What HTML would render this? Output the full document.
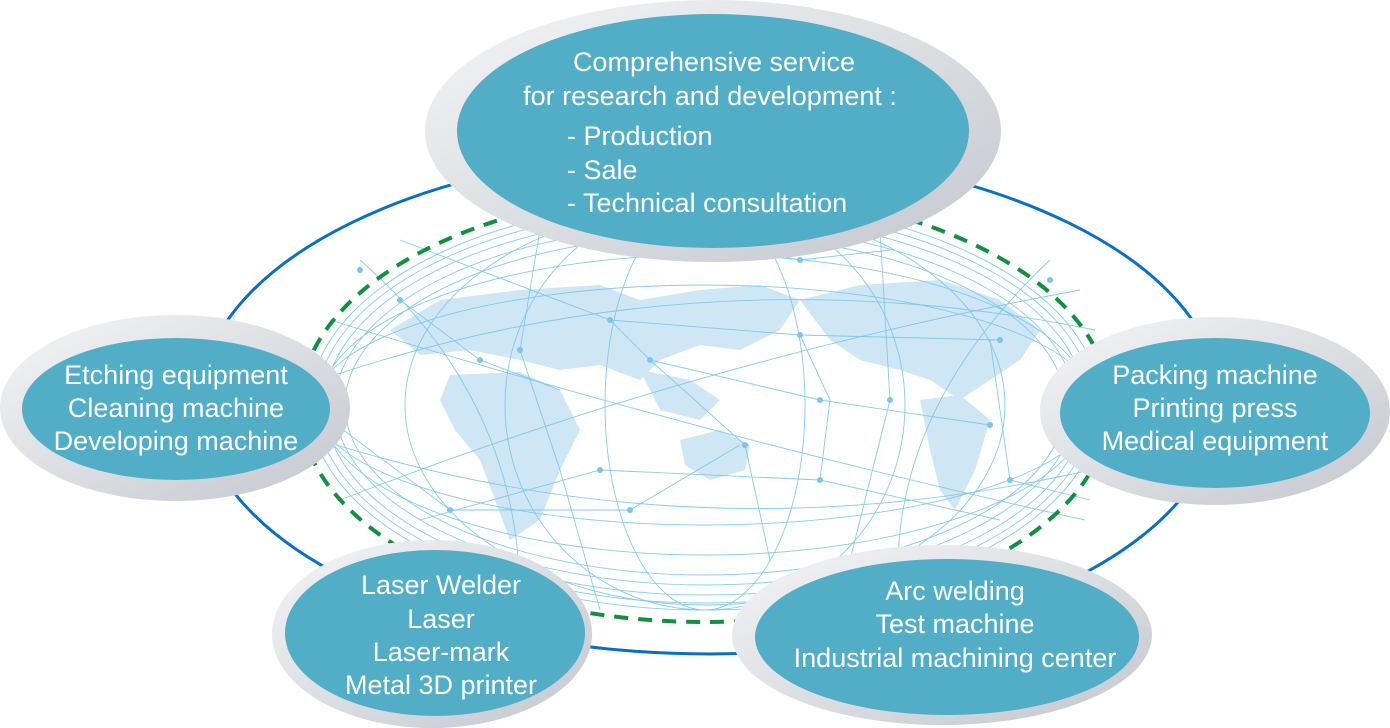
<!DOCTYPE html>
<html><head><meta charset="utf-8"><style>
html,body{margin:0;padding:0;background:#fff}
svg{display:block}
text{font-family:"Liberation Sans",sans-serif;fill:#fff;font-size:27px}
</style></head><body>
<svg width="1390" height="728" viewBox="0 0 1390 728" xmlns="http://www.w3.org/2000/svg">
<defs>
<linearGradient id="g" x1="0" y1="0" x2="1" y2="1">
<stop offset="0" stop-color="#f4f5f7"/><stop offset="1" stop-color="#c3c8cf"/>
</linearGradient>
</defs>
<g fill="#cfe6f4">
<path d="M390 330 L440 300 L520 290 L600 285 L640 300 L700 290 L760 285 L800 300 L780 330 L740 350 L700 345 L660 360 L640 380 L600 365 L560 370 L520 360 L470 350 L420 355 Z"/>
<path d="M450 375 L520 372 L560 390 L580 430 L560 470 L540 520 L510 540 L495 500 L480 460 L455 430 L440 400 Z"/>
<path d="M800 300 L860 285 L940 280 L1000 300 L1040 330 L1020 360 L990 380 L960 400 L930 380 L900 370 L860 360 L830 340 Z"/>
<path d="M920 400 L960 395 L990 420 L975 470 L955 510 L940 490 L930 450 Z"/>
<path d="M680 440 L720 430 L750 445 L745 470 L710 480 L685 465 Z"/>
<path d="M640 370 L690 380 L720 400 L700 420 L660 410 Z"/>
</g>
<g fill="none" stroke="#7cc4ec" stroke-width="0.9" opacity="0.9">
<ellipse cx="705" cy="405" rx="395" ry="205"/>
<ellipse cx="705" cy="405" rx="388" ry="198"/>
<ellipse cx="705" cy="405" rx="380" ry="190"/>
<ellipse cx="705" cy="405" rx="370" ry="180"/>
<ellipse cx="705" cy="405" rx="360" ry="170"/>
<ellipse cx="705" cy="405" rx="385" ry="150"/>
<ellipse cx="705" cy="405" rx="390" ry="120"/>
<ellipse cx="705" cy="405" rx="300" ry="200"/>
<ellipse cx="705" cy="405" rx="200" ry="205"/>
<ellipse cx="705" cy="405" rx="100" ry="205"/>
<path d="M320 380 Q700 250 1095 330 M320 440 Q700 560 1090 470 M330 320 Q720 440 1085 520 M340 500 Q700 360 1080 290 M360 260 Q520 400 520 600 M1050 260 Q880 420 900 610 M400 240 L610 320 L800 335 L1000 340 M420 520 L600 470 L820 480 L1000 520 M540 230 L520 350 L560 470 L600 610 M880 230 L890 400 L840 600 M610 320 L650 360 L745 445 L770 560 M650 360 L820 400 L990 425 M330 420 L450 510 L630 510 L740 445 M990 340 L1010 480 L1090 500 M400 300 L480 360 L560 390 M700 240 L800 260 L890 250 M800 335 L830 400 L820 480"/>
</g>
<g fill="#7cc4ec">
<circle cx="610" cy="320" r="3"/><circle cx="800" cy="335" r="3"/><circle cx="650" cy="360" r="3"/><circle cx="745" cy="445" r="3"/><circle cx="820" cy="400" r="3"/><circle cx="990" cy="425" r="3"/><circle cx="600" cy="470" r="3"/><circle cx="630" cy="510" r="3"/><circle cx="450" cy="510" r="3"/><circle cx="520" cy="350" r="3"/><circle cx="890" cy="400" r="3"/><circle cx="800" cy="260" r="3"/><circle cx="540" cy="230" r="3"/><circle cx="400" cy="300" r="3"/><circle cx="1000" cy="340" r="3"/><circle cx="820" cy="480" r="3"/><circle cx="480" cy="360" r="3"/><circle cx="1050" cy="280" r="3"/><circle cx="1010" cy="480" r="3"/><circle cx="360" cy="270" r="3"/>
</g>
<ellipse cx="705" cy="406" rx="405" ry="216" fill="none" stroke="#109040" stroke-width="4" stroke-dasharray="14 10"/>
<ellipse cx="710" cy="402" rx="510" ry="252" fill="none" stroke="#0a6fc0" stroke-width="3"/>
<ellipse cx="713" cy="131" rx="288" ry="131" fill="url(#g)"/>
<ellipse cx="713" cy="131" rx="256" ry="117" fill="#52adc6"/>
<ellipse cx="175" cy="408" rx="175" ry="93" fill="url(#g)"/>
<ellipse cx="176" cy="409" rx="154" ry="71" fill="#52adc6"/>
<ellipse cx="1215" cy="411" rx="175" ry="94" fill="url(#g)"/>
<ellipse cx="1215" cy="413" rx="155" ry="75" fill="#52adc6"/>
<ellipse cx="432" cy="634" rx="160" ry="94" fill="url(#g)"/>
<ellipse cx="435" cy="633" rx="150" ry="83" fill="#52adc6"/>
<ellipse cx="942" cy="635" rx="210" ry="90" fill="url(#g)"/>
<ellipse cx="947" cy="637" rx="192" ry="78" fill="#52adc6"/>
<text x="714" y="71" text-anchor="middle">Comprehensive service</text>
<text x="710" y="105" text-anchor="middle">for research and development :</text>
<text x="567" y="145">- Production</text>
<text x="567" y="179">- Sale</text>
<text x="567" y="212">- Technical consultation</text>
<g text-anchor="middle">
<text x="176" y="384">Etching equipment</text>
<text x="176" y="417">Cleaning machine</text>
<text x="176" y="450">Developing machine</text>
<text x="1215" y="384">Packing machine</text>
<text x="1215" y="417">Printing press</text>
<text x="1215" y="450">Medical equipment</text>
<text x="441" y="594">Laser Welder</text>
<text x="441" y="628">Laser</text>
<text x="441" y="661">Laser-mark</text>
<text x="441" y="694">Metal 3D printer</text>
<text x="955" y="600">Arc welding</text>
<text x="955" y="633">Test machine</text>
<text x="955" y="667">Industrial machining center</text>
</g>
</svg>
</body></html>
